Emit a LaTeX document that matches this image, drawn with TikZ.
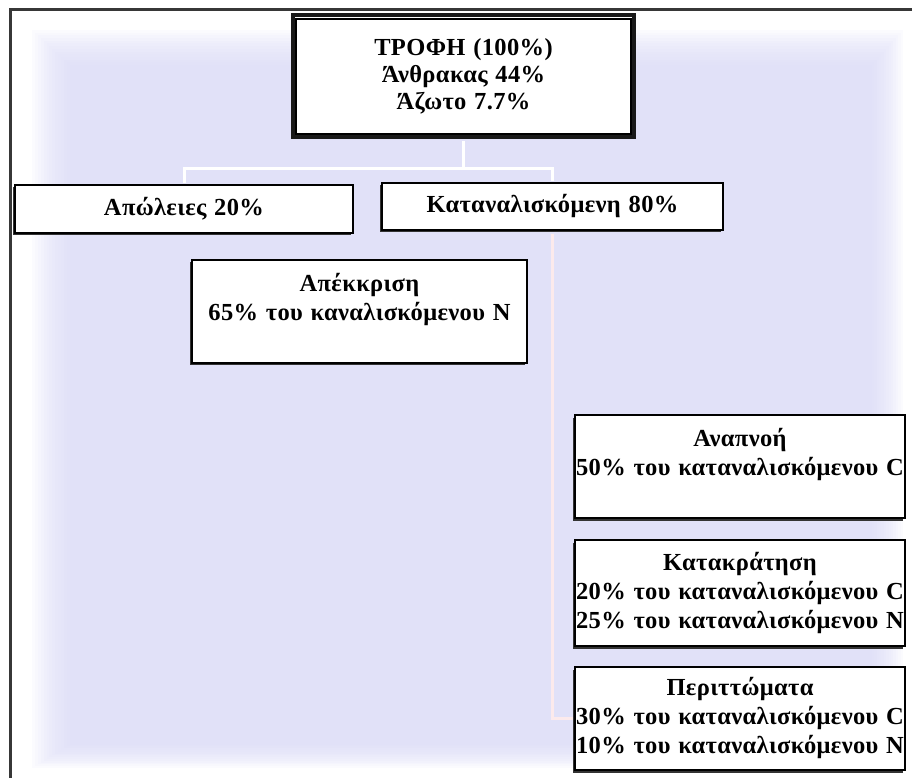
\documentclass[tikz,border=0pt]{standalone}
\usepackage{fontspec}
\setmainfont{Liberation Serif}
\newfontfamily\boxfont[LetterSpace=1.5,WordSpace=1.2]{Liberation Serif}
\usetikzlibrary{shadows}
\definecolor{lav}{RGB}{217,217,246}
\definecolor{pinkline}{RGB}{252,234,236}
\definecolor{frameline}{RGB}{55,55,55}
\begin{document}
\begin{tikzpicture}[x=1pt,y=-1pt,
  txt/.style={font=\boxfont\fontsize{24.5pt}{29pt}\selectfont\bfseries, align=center},
  box/.style={txt, draw=black, line width=1.2pt, fill=white, inner sep=0pt,
    drop shadow={shadow xshift=-2.5pt, shadow yshift=-2.5pt, fill=black!80, opacity=1}},
  topbox/.style={txt, font=\boxfont\fontsize{24.5pt}{27pt}\selectfont\bfseries,
    draw=black!90, line width=4pt, fill=white, inner sep=0pt},
  conn/.style={draw=white, line width=3pt},
  connp/.style={draw=pinkline, line width=2.5pt}]
\useasboundingbox (0,0) rectangle (914,778);
% soft lavender background
\foreach \i in {0,...,13}{
  \fill[lav, fill opacity=0.1] ({32+2.9*\i},{30+2.7*\i}) rectangle ({903-2.4*\i},{768-1.8*\i});
}
% frame
\draw[frameline, line width=3pt] (912,10) -- (10,10) -- (10,778);
% boxes
\node[topbox, minimum width=341pt, minimum height=122pt] (top) at (463.5,76)
  {ΤΡΟΦΗ (100\%)\\Άνθρακας 44\%\\Άζωτο 7.7\%};
\draw[line width=1.2pt] ([xshift=5pt,yshift=-6pt]top.north west) rectangle ([xshift=-5pt,yshift=5pt]top.south east);
\node[box, minimum width=338pt, minimum height=48pt] (loss) at (184,209) {Απώλειες 20\%};
\node[box, minimum width=341pt, minimum height=47pt] (cons) at (552.5,206.5) {Καταναλισκόμενη 80\%};
\node[box, minimum width=335pt, minimum height=103pt] (exc) at (359.5,311.5)
  {Απέκκριση\\65\% του καναλισκόμενου N\\\mbox{}};
\node[box, minimum width=330pt, minimum height=103pt] (resp) at (740,466.5)
  {Αναπνοή\\50\% του καταναλισκόμενου C\\\mbox{}};
\node[box, minimum width=330pt, minimum height=106pt] (ret) at (740,593)
  {Κατακράτηση\\20\% του καταναλισκόμενου C\\25\% του καταναλισκόμενου N};
\node[box, minimum width=330pt, minimum height=103pt] (fec) at (740,718.5)
  {Περιττώματα\\30\% του καταναλισκόμενου C\\10\% του καταναλισκόμενου N};
% faint connectors
\coordinate (j1) at ([yshift=-30pt]top.south);
\draw[conn] ([yshift=-2pt]top.south) -- (j1);
\draw[conn] (j1) -| ([yshift=1.5pt]loss.north);
\draw[conn] (j1) -| ([yshift=1.5pt]cons.north);
\draw[connp] ([yshift=-3pt]cons.south) |- ([xshift=-1.5pt]fec.west);
\end{tikzpicture}
\end{document}
